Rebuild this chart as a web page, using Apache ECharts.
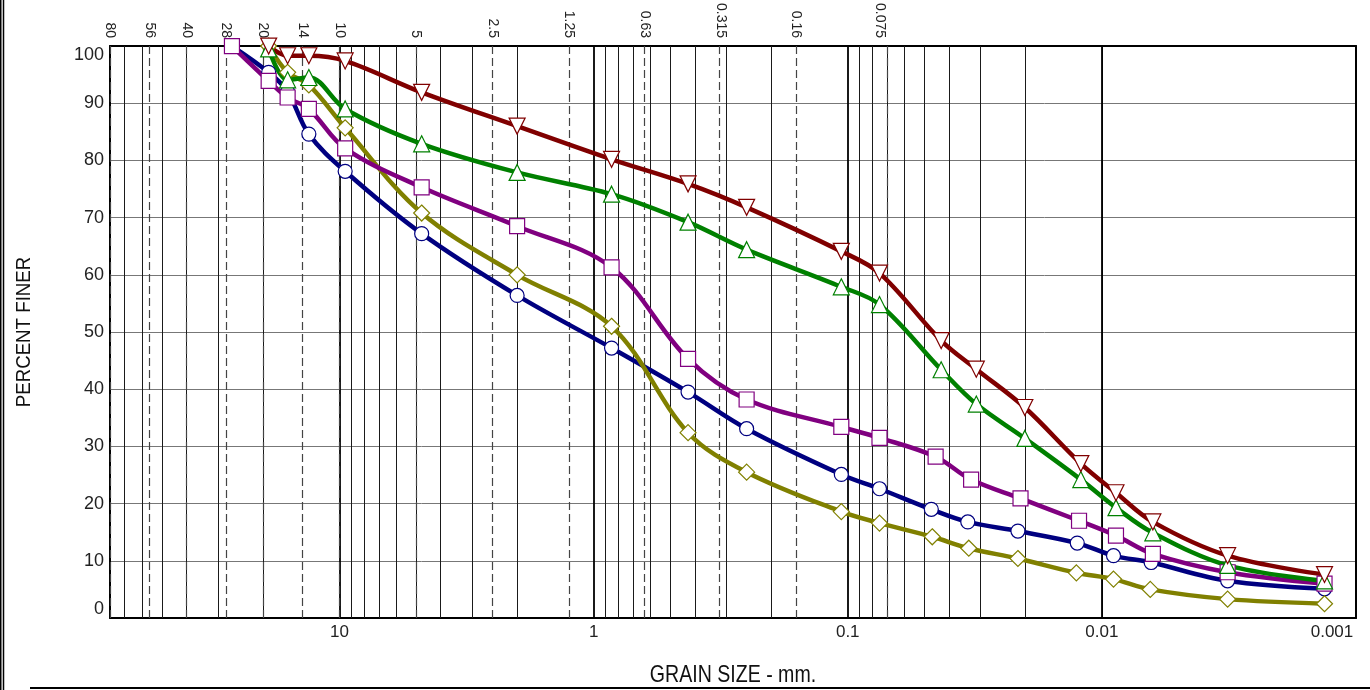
<!DOCTYPE html>
<html>
<head>
<meta charset="utf-8">
<script src="https://cdn.jsdelivr.net/npm/echarts@6/dist/echarts.min.js"></script>
<style>
html,body{margin:0;padding:0;background:#fff;}
#chart{width:1370px;height:690px;}
</style>
</head>
<body>
<div id="chart"></div>
<script>
// ---- Data (grain size in mm, percent finer) ----
const sizesRed    = [19, 16, 13.2, 9.5, 4.75, 2.0, 0.85, 0.425, 0.25, 0.106, 0.075, 0.0429, 0.0312, 0.0201, 0.0121, 0.0088, 0.0063, 0.0032, 0.00133];
const finerRed    = [100, 98.3, 98.3, 97.4, 91.9, 86.0, 80.2, 75.9, 71.8, 64.1, 60.3, 48.5, 43.5, 36.8, 27.0, 21.9, 16.8, 10.9, 7.6];

const sizesGreen  = [19, 16, 13.2, 9.5, 4.75, 2.0, 0.85, 0.425, 0.25, 0.106, 0.075, 0.0429, 0.0312, 0.0201, 0.0121, 0.0088, 0.0063, 0.0032, 0.00133];
const finerGreen  = [99.5, 94.1, 94.5, 89.0, 82.9, 77.9, 74.1, 69.2, 64.4, 57.9, 54.8, 43.4, 37.4, 31.4, 24.2, 19.3, 14.9, 9.2, 6.5];

const sizesPurple = [26.5, 19, 16, 13.2, 9.5, 4.75, 2.0, 0.85, 0.425, 0.25, 0.106, 0.075, 0.0451, 0.0327, 0.0209, 0.0123, 0.0088, 0.0063, 0.0032, 0.00133];
const finerPurple = [100, 93.9, 91.0, 89.0, 82.1, 75.3, 68.5, 61.3, 45.3, 38.2, 33.4, 31.5, 28.2, 24.2, 20.9, 17.0, 14.4, 11.2, 8.0, 6.0];

const sizesOlive  = [19, 16, 13.2, 9.5, 4.75, 2.0, 0.85, 0.425, 0.25, 0.106, 0.075, 0.0465, 0.0334, 0.0214, 0.0126, 0.0090, 0.00645, 0.0032, 0.00133];
const finerOlive  = [100, 95.4, 93.2, 85.7, 70.8, 60.0, 51.0, 32.4, 25.5, 18.6, 16.6, 14.2, 12.2, 10.4, 7.9, 6.8, 5.0, 3.3, 2.5];

const sizesBlue   = [26.5, 19, 16, 13.2, 9.5, 4.75, 2.0, 0.85, 0.425, 0.25, 0.106, 0.075, 0.0469, 0.0337, 0.0214, 0.0125, 0.0090, 0.0064, 0.0032, 0.00133];
const finerBlue   = [100, 95.4, 92.0, 84.6, 78.1, 67.2, 56.4, 47.2, 39.5, 33.1, 25.1, 22.6, 19.0, 16.8, 15.2, 13.1, 10.9, 9.7, 6.5, 5.1];

// ---- Axis ticks / labels ----
const sieveValues = [80, 56, 40, 28, 20, 14, 10, 5, 2.5, 1.25, 0.63, 0.315, 0.16, 0.075];
const sieveLabels = ['80', '56', '40', '28', '20', '14', '10', '5', '2.5', '1.25', '0.63', '0.315', '0.16', '0.075'];
const decadeValues = [0.001, 0.01, 0.1, 1, 10];
const decadeLabels = ['0.001', '0.01', '0.1', '1', '10'];

const X_MIN = 0.001, X_MAX = 80;

// log grid lines k*10^e
const minorGrid = [];
for (let e = -3; e <= 1; e++) {
  for (let k = 2; k <= 9; k++) {
    const v = Number((k * Math.pow(10, e)).toPrecision(6));
    if (v > X_MIN && v < X_MAX) minorGrid.push(v);
  }
}
const majorGrid = decadeValues.filter(v => v > X_MIN && v < X_MAX);

const FONT_R = "'Liberation Sans', Arial, sans-serif";

function lineHelper(values, style, z) {
  return {
    type: 'line', data: [], silent: true, z: z, animation: false,
    markLine: {
      silent: true, animation: false, symbol: ['none', 'none'],
      label: { show: false },
      emphasis: { disabled: true },
      lineStyle: style,
      data: values.map(v => ({ xAxis: v }))
    }
  };
}

function dataSeries(name, sizes, finer, color, symbol, rot, size) {
  return {
    name: name, type: 'line', z: 5,
    data: sizes.map((s, i) => [s, finer[i]]),
    smooth: 0.35,
    symbol: symbol, symbolSize: size, symbolRotate: rot,
    showAllSymbol: true,
    lineStyle: { color: color, width: 4.5 },
    itemStyle: { color: '#ffffff', borderColor: color, borderWidth: 1.2 },
    emphasis: { disabled: true },
    animation: false
  };
}

function findIdx(arr, v) {
  return arr.findIndex(d => Math.abs(Math.log10(d) - Math.log10(v)) < 1e-6);
}

const chart = echarts.init(document.getElementById('chart'), null, { renderer: 'canvas' });
chart.setOption({
  backgroundColor: '#ffffff',
  animation: false,
  grid: { left: 110, right: 14, top: 45, bottom: 72, show: false },
  xAxis: [
    {
      type: 'log', logBase: 10, min: X_MIN, max: X_MAX, inverse: true, position: 'bottom',
      axisLine: { show: true, onZero: false, lineStyle: { color: '#000', width: 2 } },
      axisTick: { show: false },
      splitLine: { show: false },
      axisLabel: {
        customValues: decadeValues,
        margin: 6, fontFamily: FONT_R, fontSize: 17, color: '#222',
        formatter: function (v) {
          const i = findIdx(decadeValues, v);
          const t = i >= 0 ? decadeLabels[i] : '';
          return i === 0 ? '{r|' + t + '}' : t;
        },
        rich: { r: { fontFamily: FONT_R, fontSize: 17, color: '#222', padding: [0, 48, 0, 0] } }
      }
    },
    {
      type: 'log', logBase: 10, min: X_MIN, max: X_MAX, inverse: true, position: 'top',
      axisLine: { show: true, onZero: false, lineStyle: { color: '#000', width: 2 } },
      axisTick: { show: false },
      splitLine: { show: false },
      axisLabel: {
        customValues: sieveValues,
        rotate: 90, margin: 8, fontFamily: FONT_R, fontSize: 14, color: '#222',
        formatter: function (v) {
          const i = findIdx(sieveValues, v);
          return i >= 0 ? sieveLabels[i] : '';
        }
      }
    }
  ],
  yAxis: [
    {
      type: 'value', min: 0, max: 100, interval: 10,
      axisLine: { show: true, lineStyle: { color: '#000', width: 2 } },
      axisTick: { show: false },
      axisLabel: {
        margin: 6, fontFamily: FONT_R, fontSize: 18, color: '#222',
        verticalAlignMaxLabel: 'top', verticalAlignMinLabel: 'bottom'
      },
      splitLine: { show: true, lineStyle: { color: '#777', width: 1 } }
    },
    {
      type: 'value', min: 0, max: 100, interval: 10, position: 'right',
      axisLine: { show: true, lineStyle: { color: '#000', width: 2 } },
      axisTick: { show: false }, axisLabel: { show: false }, splitLine: { show: false }
    }
  ],
  graphic: [
    { type: 'line', shape: { x1: 0.75, y1: 0, x2: 0.75, y2: 690 }, style: { stroke: '#000', lineWidth: 1.5 }, silent: true },
    { type: 'line', shape: { x1: 3.5, y1: 0, x2: 3.5, y2: 690 }, style: { stroke: '#000', lineWidth: 1.5 }, silent: true },
    { type: 'line', shape: { x1: 30, y1: 688, x2: 1370, y2: 688 }, style: { stroke: '#000', lineWidth: 2 }, silent: true },
    {
      type: 'text', x: 733, y: 675, scaleX: 0.815, silent: true,
      style: { text: 'GRAIN SIZE - mm.', x: 0, y: 0, align: 'center', verticalAlign: 'middle',
               font: "24px 'Liberation Sans', Arial, sans-serif", fill: '#111' }
    },
    {
      type: 'text', x: 24, y: 332, rotation: Math.PI / 2, scaleX: 0.89, silent: true,
      style: { text: 'PERCENT FINER', x: 0, y: 0, align: 'center', verticalAlign: 'middle',
               font: "21px 'Liberation Sans', Arial, sans-serif", fill: '#111' }
    }
  ],
  series: [
    lineHelper(minorGrid, { color: '#1a1a1a', width: 1, type: 'solid' }, 1),
    lineHelper(majorGrid, { color: '#000', width: 1.8, type: 'solid' }, 1),
    lineHelper(sieveValues, { color: '#444', width: 1.2, type: [8, 4] }, 2),
    dataSeries('Sample 5', sizesBlue, finerBlue, '#000080', 'circle', 0, 14),
    dataSeries('Sample 4', sizesOlive, finerOlive, '#808000', 'diamond', 0, 16),
    dataSeries('Sample 3', sizesPurple, finerPurple, '#800080', 'rect', 0, 15),
    dataSeries('Sample 2', sizesGreen, finerGreen, '#008000', 'triangle', 0, 16),
    dataSeries('Sample 1', sizesRed, finerRed, '#800000', 'triangle', 180, 16)
  ]
});
</script>
</body>
</html>
